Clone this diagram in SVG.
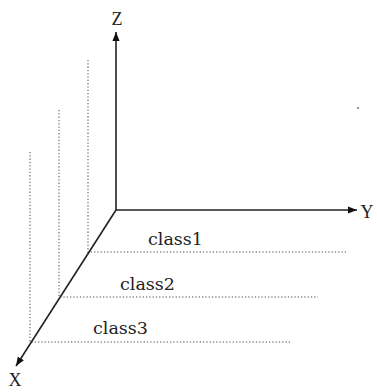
<svg xmlns="http://www.w3.org/2000/svg" width="377" height="392" viewBox="0 0 377 392">
<style>
.axis{stroke:#222;stroke-width:1.6;fill:none}
.dot{stroke:#8a8a8a;stroke-width:1.5;stroke-dasharray:1.3 2;fill:none}
.lbl{fill:#222}
.axl{font-family:"Liberation Serif","DejaVu Serif",serif;font-size:18px}
.cls{font-family:"DejaVu Serif","Liberation Serif",serif;font-size:17.5px}
</style>
<defs>
<marker id="ah" viewBox="0 0 10 10" refX="10" refY="5" markerWidth="9" markerHeight="9" markerUnits="userSpaceOnUse" orient="auto">
<path d="M0,1 L10,5 L0,9 Z" fill="#111"/>
</marker>
</defs>
<rect width="377" height="392" fill="#fff"/>
<g id="guides">
<path class="dot" d="M88,60 V252 H347"/>
<path class="dot" d="M59,110 V297 H318"/>
<path class="dot" d="M30,152 V342 H290"/>
</g>
<g id="connectors">
<line class="axis" x1="116" y1="210" x2="116" y2="32" marker-end="url(#ah)"/>
<line class="axis" x1="116" y1="210" x2="357" y2="210" marker-end="url(#ah)"/>
<line class="axis" x1="116" y1="210" x2="16" y2="366" marker-end="url(#ah)"/>
</g>
<g id="axis-z"><text class="lbl axl" x="117" y="25" text-anchor="middle">Z</text></g>
<g id="axis-y"><text class="lbl axl" x="367" y="218" text-anchor="middle">Y</text></g>
<g id="axis-x"><text class="lbl axl" x="15" y="386" text-anchor="middle">X</text></g>
<g id="class1"><text class="lbl cls" x="148" y="245">class1</text></g>
<g id="class2"><text class="lbl cls" x="120" y="290">class2</text></g>
<g id="class3"><text class="lbl cls" x="93" y="334">class3</text></g>
<circle cx="358" cy="108" r="0.9" fill="#666"/>
</svg>
